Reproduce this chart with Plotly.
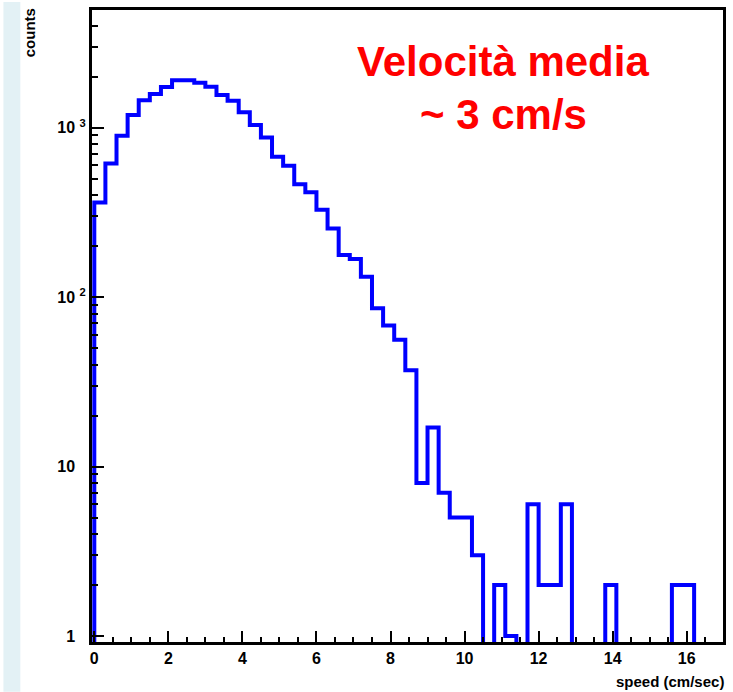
import plotly.graph_objects as go

# ---- data ----
bin_width = 0.3  # cm/s
counts = [
    362, 614, 894, 1188, 1448, 1578, 1734, 1906, 1906, 1840,
    1742, 1556, 1441, 1231, 1037, 873, 674, 596, 464, 415,
    328, 254, 177, 168, 132, 86, 68, 56, 37, 8,
    17, 7, 5, 5, 3, 0, 2, 1, 0, 6,
    2, 2, 6, 0, 0, 0, 2, 0, 0, 0,
    0, 0, 2, 2, 0, 0, 0,
]
y_tickvals = [1, 10, 100, 1000]
y_ticktext = [
    "1 <sup><span style='color:rgba(0,0,0,0)'>0</span></sup>",
    "10 <sup><span style='color:rgba(0,0,0,0)'>0</span></sup>",
    "10 <sup>2</sup>",
    "10 <sup>3</sup>",
]
title_line1 = "Velocità media"
title_line2 = "~ 3 cm/s"
x_label = "speed (cm/sec)"
y_label = "counts"

# ---- build histogram outline (step line) ----
edges = [round(i * bin_width, 4) for i in range(len(counts) + 1)]
floor = 0.3  # zero bins drawn below the visible log range
xs, ys = [edges[0]], [floor]
for i, c in enumerate(counts):
    v = c if c > 0 else floor
    xs += [edges[i], edges[i + 1]]
    ys += [v, v]
xs.append(edges[-1])
ys.append(floor)

fig = go.Figure()
fig.add_trace(go.Scatter(
    x=xs, y=ys, mode="lines",
    line=dict(color="#0000ff", width=4),
    hoverinfo="skip", showlegend=False,
))

W, H = 733, 692
L, R, T, B = 92, 7, 8, 50
pw, ph = W - L - R, H - T - B


def px(x):
    return (x - L) / pw


def py(y):
    return (H - B - y) / ph


tickfont = dict(family="Liberation Sans", size=16, color="black", weight="bold")

fig.update_layout(
    width=W, height=H,
    margin=dict(l=L, r=R, t=T, b=B, pad=0),
    paper_bgcolor="white", plot_bgcolor="white",
    xaxis=dict(
        range=[-0.062, 16.98],
        showline=True, linecolor="black", linewidth=3, mirror=True,
        ticks="inside", ticklen=11, tickwidth=2, tickcolor="black",
        tickmode="linear", tick0=0, dtick=2,
        minor=dict(ticks="inside", ticklen=5, tickwidth=2, tickcolor="black", dtick=0.5),
        showgrid=False, zeroline=False, tickfont=tickfont,
    ),
    yaxis=dict(
        type="log", range=[-0.035, 3.694],
        showline=True, linecolor="black", linewidth=3, mirror=True,
        ticks="inside", ticklen=12, tickwidth=2, tickcolor="black",
        tickmode="array", tickvals=y_tickvals, ticktext=y_ticktext,
        minor=dict(ticks="inside", ticklen=6, tickwidth=2, tickcolor="black", dtick="D1"),
        showgrid=False, zeroline=False, tickfont=tickfont,
    ),
    shapes=[dict(
        type="rect", xref="paper", yref="paper",
        x0=px(3), x1=px(20), y0=py(H), y1=py(0),
        fillcolor="#e3f1f5", line=dict(width=0), layer="below",
    )],
    annotations=[
        dict(text=title_line1, xref="paper", yref="paper", x=px(505), y=py(60),
             xanchor="center", yanchor="middle", showarrow=False,
             font=dict(family="Liberation Sans", size=42, color="#ff0000", weight="bold")),
        dict(text=title_line2, xref="paper", yref="paper", x=px(505), y=py(113),
             xanchor="center", yanchor="middle", showarrow=False,
             font=dict(family="Liberation Sans", size=42, color="#ff0000", weight="bold")),
        dict(text=y_label, xref="paper", yref="paper", x=px(30), y=py(31),
             xanchor="center", yanchor="middle", showarrow=False, textangle=-90,
             font=dict(family="Liberation Sans", size=15, color="black", weight="bold")),
        dict(text=x_label, xref="paper", yref="paper", x=px(729), y=py(682),
             xanchor="right", yanchor="middle", showarrow=False,
             font=dict(family="Liberation Sans", size=15, color="black", weight="bold")),
    ],
)

fig.write_html("out.html", config={"displayModeBar": False},
               post_script="document.body.style.margin='0';")
